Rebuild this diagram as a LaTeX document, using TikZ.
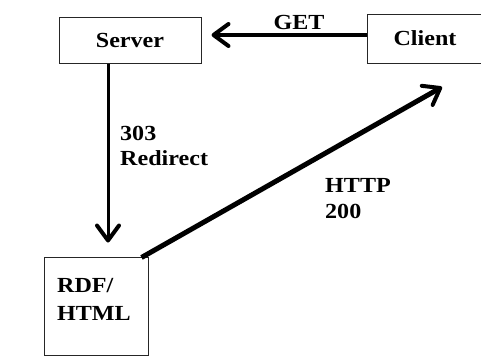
\documentclass[tikz,border=0pt]{standalone}
\usepackage{fontspec}
\newfontfamily\lbl{Liberation Serif}[FakeStretch=1.12]
\usetikzlibrary{arrows.meta}
\begin{document}
\begin{tikzpicture}[x=1pt,y=-1pt,
  box/.style={draw=black!85, line width=1pt, inner sep=0pt},
  txt/.style={font=\lbl\bfseries\fontsize{21.5}{27}\selectfont, inner sep=0pt},
  arr/.style={-{Straight Barb[length=15pt,width=22pt,line width=4pt,round]}, line width=#1},
]
\useasboundingbox[fill=white] (0,0) rectangle (481,356);
% boxes
\node[box, txt, minimum width=142pt, minimum height=46pt] (server) at (130,40) {Server};
\node[box, txt, minimum width=116pt, minimum height=49pt] (client) at (425,38.5) {Client};
\node[box, minimum width=104pt, minimum height=98pt] (rdf) at (96,306) {};
\node[txt, anchor=base west] (rdf1) at (57,292) {RDF/};
\node[txt, anchor=base west] (rdf2) at (57,320) {HTML};
% labels
\node[txt, anchor=base] (get) at (299,29) {GET};
\node[txt, anchor=base west] (r1) at (120,140) {303};
\node[txt, anchor=base west] (r2) at (120,165) {Redirect};
\node[txt, anchor=base west] (h1) at (325,192) {HTTP};
\node[txt, anchor=base west] (h2) at (325,218) {200};
\coordinate (ctip) at (442,87);
% connectors
\draw[arr=3.5pt, shorten >=10pt] ([yshift=3.5pt]client.west) -- ([yshift=5pt]server.east);
\draw[arr=3pt, shorten >=14pt] ([xshift=-22pt]server.south) -- ([xshift=12pt]rdf.north);
\draw[arr=5pt] ([xshift=-7pt,yshift=-1pt]rdf.north east) -- (ctip);
\end{tikzpicture}
\end{document}
